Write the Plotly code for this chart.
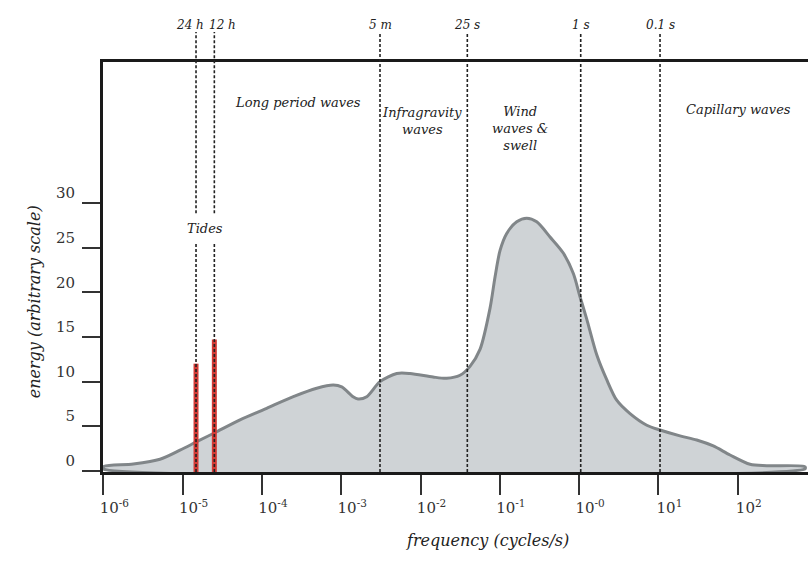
import numpy as np
import plotly.graph_objects as go

# ---- data ----
# spectrum outline: log10(frequency) and energy
spec_log_freq = [-6.0, -5.622, -5.285, -5.033, -4.822, -4.570, -4.276, -3.94, -3.604, -3.309,
                 -3.10, -2.994, -2.851, -2.788, -2.678, -2.511, -2.30, -2.132, -1.842, -1.67,
                 -1.502, -1.376, -1.25, -1.124, -1.06, -0.997, -0.913, -0.787, -0.661,
                 -0.535, -0.367, -0.20, -0.073, 0.011, 0.096, 0.222, 0.348, 0.474, 0.642,
                 0.853, 1.02, 1.272, 1.483, 1.692, 1.903, 2.155, 2.366, 2.849]
spec_energy = [0.45, 0.75, 1.28, 2.3, 3.25, 4.37, 5.7, 7.0, 8.3, 9.24,
               9.6, 9.4, 8.3, 8.04, 8.3, 9.98, 10.9, 10.9, 10.5, 10.36,
               10.7, 11.7, 13.6, 18.2, 21.75, 24.7, 26.6, 27.9, 28.3,
               27.9, 26.2, 24.4, 22.1, 19.5, 17.0, 13.0, 10.2, 7.9, 6.4,
               5.1, 4.56, 3.9, 3.44, 2.77, 1.76, 0.72, 0.56, 0.45]
baseline_energy = 0.2

# tidal lines (24 h and 12 h)
tide_log_freq = [-4.831, -4.600]
tide_energy = [12.0, 14.7]

# period markers (dotted lines)
marker_log_freq = [-4.831, -4.600, -2.511, -1.41, 0.02, 1.02]
marker_labels = ["24 h", "12 h", "5 m", "25 s", "1 s", "0.1 s"]
marker_label_shift = [-6, 8, 0, 0, 0, 0]

# regions
region_labels = ["Long period waves", "Infragravity<br>waves", "Wind<br>waves &amp;<br>swell",
                 "Capillary waves", "Tides"]
region_log_freq = [-3.544, -1.98, -0.745, 2.004, -4.718]
region_y = [0.924, 0.899, 0.902, 0.907, 0.595]

# axes
x_tick_exp = [-6, -5, -4, -3, -2, -1, 0, 1, 2]
x_tick_text = ["10<sup>-6</sup>", "10<sup>-5</sup>", "10<sup>-4</sup>", "10<sup>-3</sup>",
               "10<sup>-2</sup>", "10<sup>-1</sup>", "10<sup>-0</sup>", "10<sup>1</sup>", "10<sup>2</sup>"]
y_ticks = [0, 5, 10, 15, 20, 25, 30]

FONT = "DejaVu Serif"

spec_freq = 10 ** np.array(spec_log_freq)

fig = go.Figure()
fig.add_trace(go.Scatter(
    x=list(spec_freq) + [spec_freq[-1], spec_freq[0], spec_freq[0]],
    y=list(spec_energy) + [baseline_energy, baseline_energy, spec_energy[0]],
    mode="lines", fill="toself", fillcolor="#cfd3d6",
    line=dict(color="#818689", width=3, shape="spline", smoothing=0.8),
    hoverinfo="skip", showlegend=False))

for lf, e in zip(tide_log_freq, tide_energy):
    fig.add_trace(go.Scatter(x=[10 ** lf, 10 ** lf], y=[-0.2, e], mode="lines",
                             line=dict(color="#d33a35", width=5), showlegend=False,
                             hoverinfo="skip"))

shapes = []
top_paper = 1.073
for i, lf in enumerate(marker_log_freq):
    f = 10 ** lf
    if i < 2:
        segs = [(0, 0.558), (0.631, top_paper)]
    else:
        segs = [(0, top_paper)]
    for y0, y1 in segs:
        shapes.append(dict(type="line", xref="x", yref="paper", x0=f, x1=f, y0=y0, y1=y1,
                           line=dict(color="#222222", width=1.6, dash="3px,2px"),
                           layer="above"))

annotations = []
for lf, lab, sh in zip(marker_log_freq, marker_labels, marker_label_shift):
    annotations.append(dict(x=lf, y=1.112, xref="x", yref="paper", text=lab, showarrow=False,
                            xshift=sh, font=dict(family=FONT, size=12, color="#222", style="italic")))
for lab, lf, yy in zip(region_labels, region_log_freq, region_y):
    annotations.append(dict(x=lf, y=yy, xref="x", yref="paper", text=lab, showarrow=False,
                            font=dict(family=FONT, size=13, color="#222", style="italic")))
annotations.append(dict(x=-0.1135, y=0.415, xref="paper", yref="paper",
                        text="energy (arbitrary scale)", textangle=-90, showarrow=False,
                        font=dict(family=FONT, size=16, color="#222", style="italic")))
annotations.append(dict(x=0.546, y=-0.195, xref="paper", yref="paper",
                        text="frequency (cycles/s)", showarrow=False,
                        font=dict(family=FONT, size=16, color="#222", style="italic")))

fig.update_layout(
    width=809, height=567,
    margin=dict(l=103, r=1, t=62, b=95),
    paper_bgcolor="white", plot_bgcolor="white",
    shapes=shapes, annotations=annotations,
    xaxis=dict(type="log", range=[-6.004, 2.886], showgrid=False, zeroline=False,
               showline=True, linecolor="#1a1a1a", linewidth=3, mirror=True,
               tickvals=[10 ** e for e in x_tick_exp], ticktext=x_tick_text,
               ticks="outside", ticklen=20, tickwidth=1.5, tickcolor="#333",
               ticklabelshift=11,
               tickfont=dict(family=FONT, size=15, color="#333")),
    yaxis=dict(range=[-0.146, 45.82], showgrid=False, zeroline=False,
               showline=True, linecolor="#1a1a1a", linewidth=3,
               tickvals=y_ticks, ticks="outside", ticklen=18, tickwidth=1.5, tickcolor="#333",
               ticklabelshift=-10, ticklabelstandoff=4,
               tickfont=dict(family=FONT, size=15, color="#333")),
)

fig.write_html("out.html")
